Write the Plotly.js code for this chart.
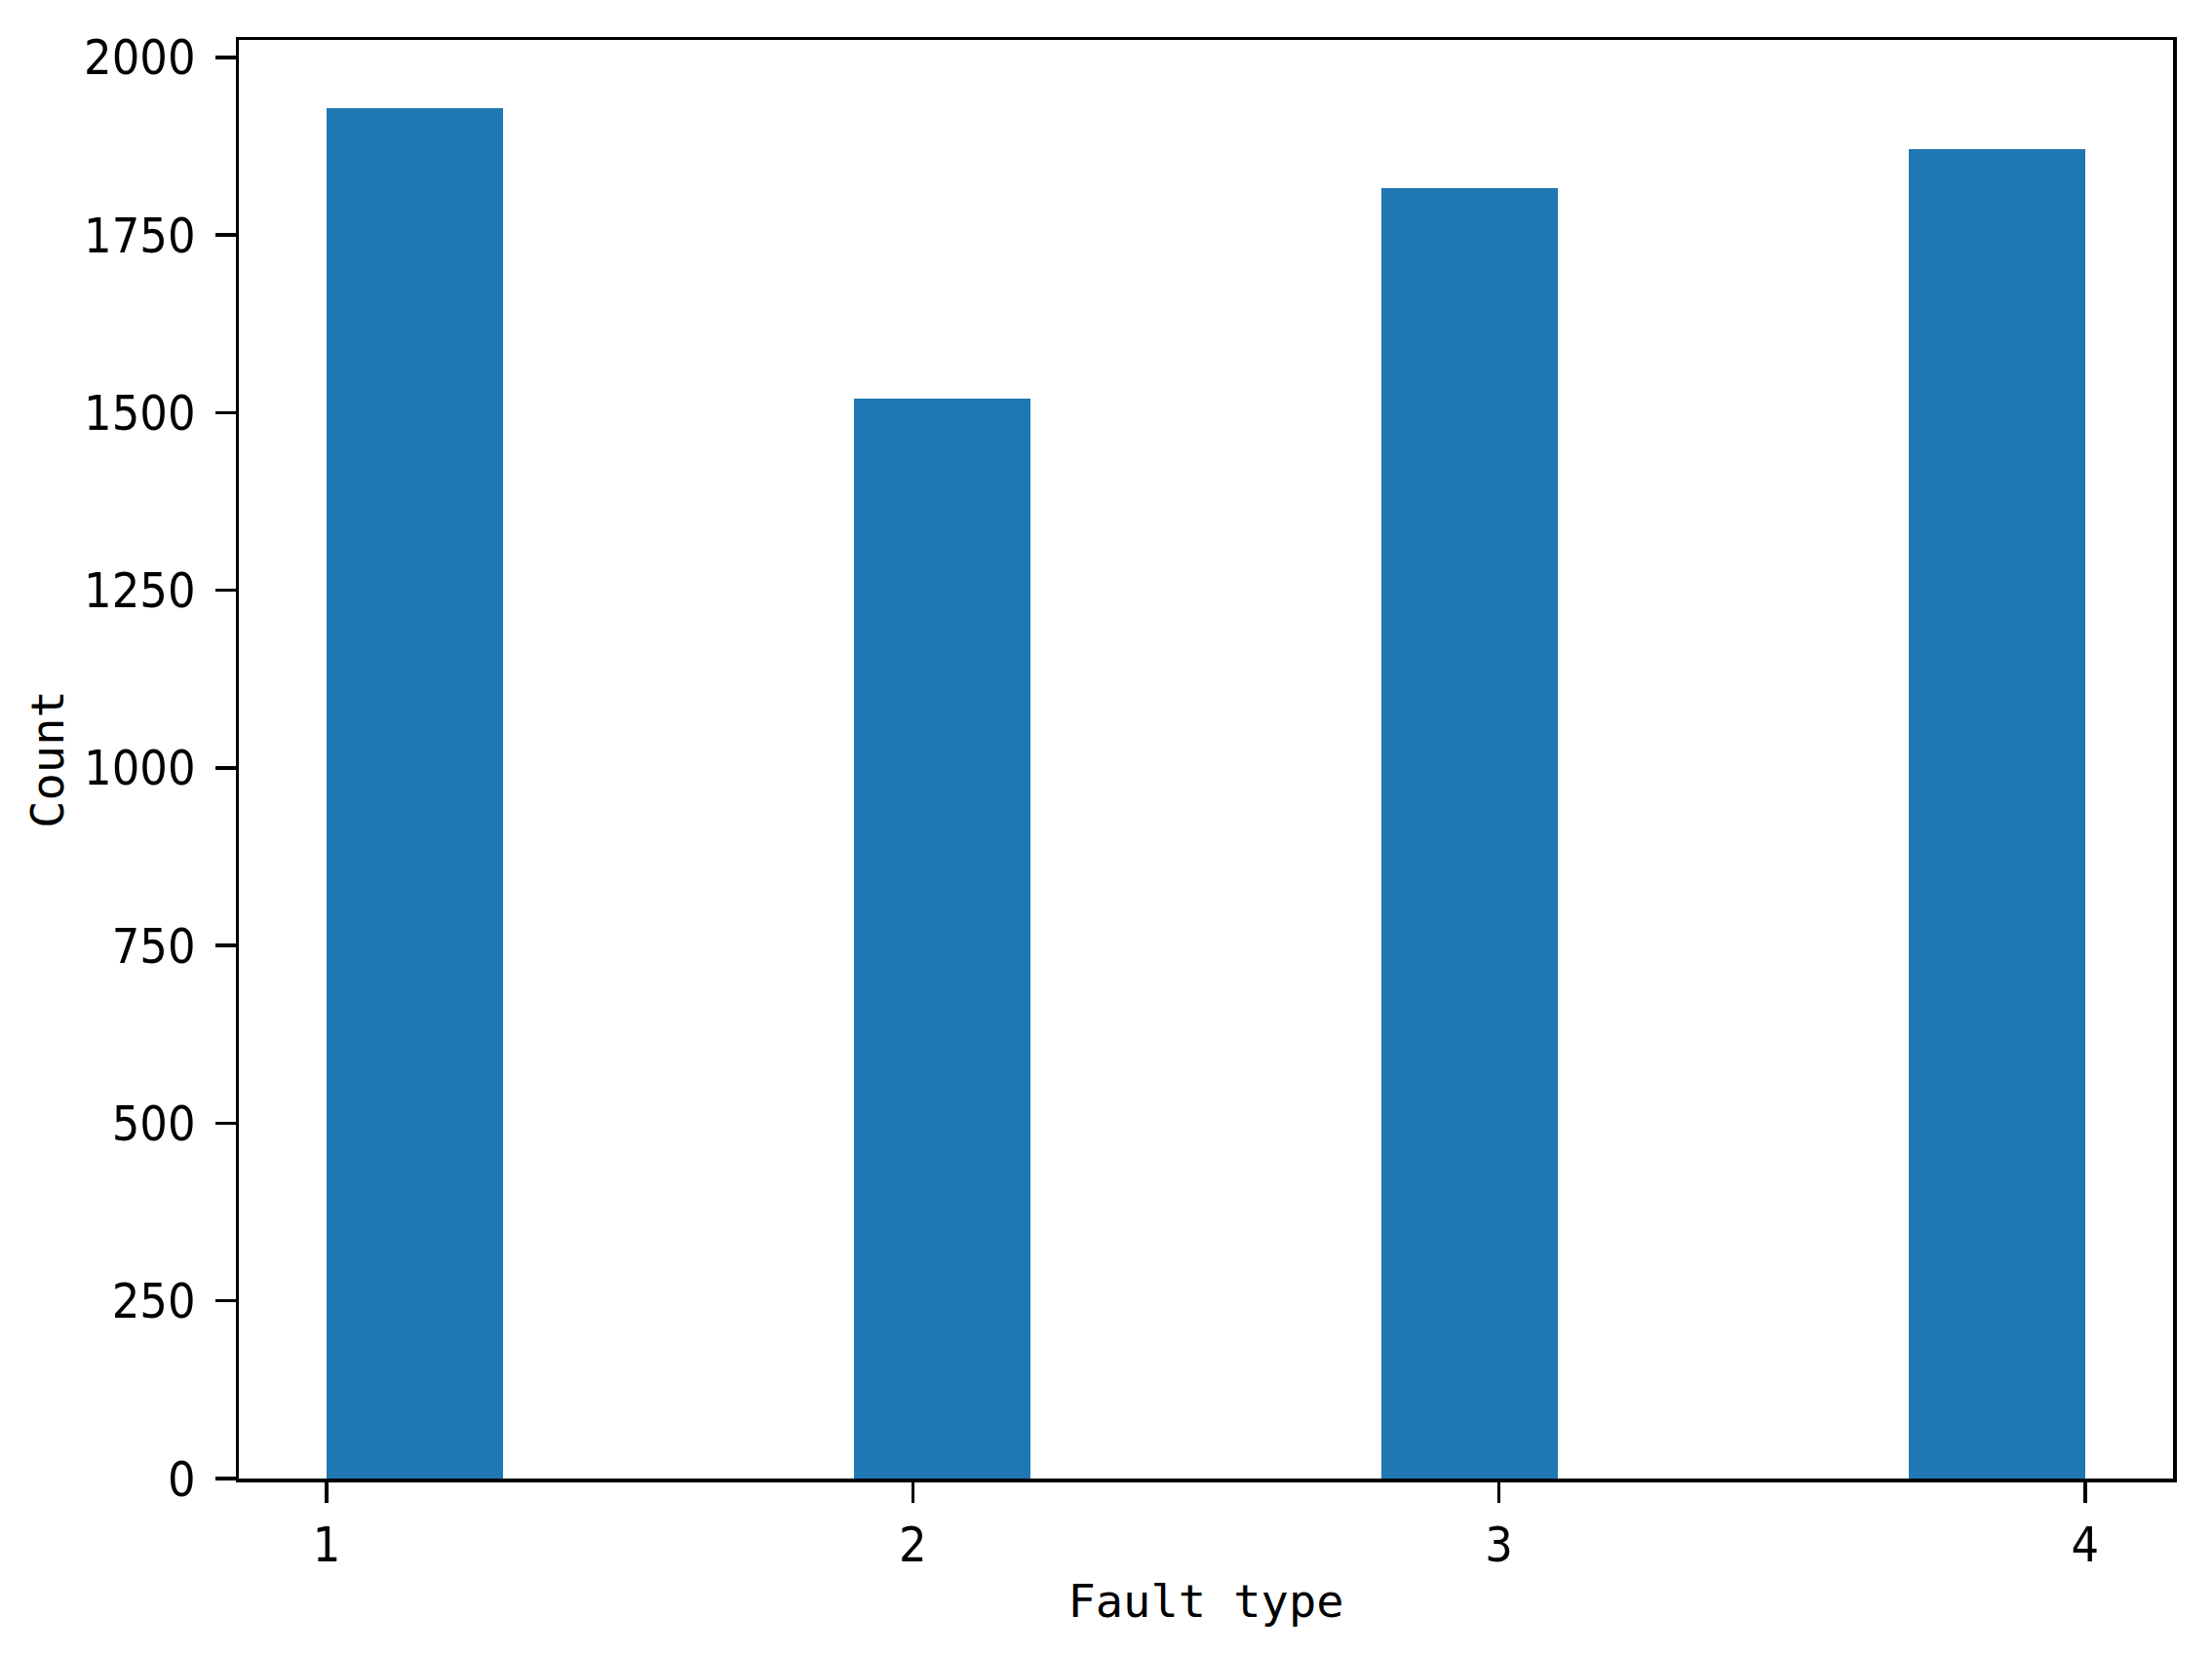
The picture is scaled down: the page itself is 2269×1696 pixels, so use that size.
<!DOCTYPE html>
<html>
<head>
<meta charset="utf-8">
<script src="https://cdn.plot.ly/plotly-3.0.1.min.js"></script>
<style>html,body{margin:0;padding:0;background:#fff;}#chart{width:2269px;height:1696px;}</style>
</head>
<body>
<div id="chart"></div>
<script>
// Data (10 bins over fault types 1..4)
const faultTypes = [1, 2, 3, 4];
const counts = [1928, 1520, 1816, 1871];
const xTickVals = [1, 2, 3, 4];
const xTickText = ['1', '2', '3', '4'];
const yTickVals = [0, 250, 500, 750, 1000, 1250, 1500, 1750, 2000];
const yTickText = ['0', '250', '500', '750', '1000', '1250', '1500', '1750', '2000'];
const numBins = 10;

// histogram binning (as matplotlib hist with bins=10)
const minV = Math.min(...faultTypes), maxV = Math.max(...faultTypes);
const binWidth = (maxV - minV) / numBins;
const binCenters = faultTypes.map(v => {
  let idx = Math.floor((v - minV) / binWidth + 1e-9);
  if (idx >= numBins) idx = numBins - 1;
  return minV + (idx + 0.5) * binWidth;
});

const span = maxV - minV;
const xRange = [minV - 0.05 * span, maxV + 0.05 * span];
const yRange = [0, Math.max(...counts) * 1.05];

const tickFont = {family: '"Liberation Sans Narrow", "DejaVu Sans Condensed", "DejaVu Sans Mono", sans-serif', size: 50, color: '#000'};
const titleFont = {family: '"DejaVu Sans Mono", monospace', size: 47, color: '#000'};

const trace = {
  type: 'bar',
  x: binCenters,
  y: counts,
  width: binWidth,
  marker: {color: '#1f77b4', line: {width: 0}},
  hoverinfo: 'skip'
};

const layout = {
  width: 2269,
  height: 1696,
  margin: {l: 245, r: 40, t: 41, b: 179, pad: 0},
  paper_bgcolor: '#ffffff',
  plot_bgcolor: '#ffffff',
  showlegend: false,
  bargap: 0,
  xaxis: {
    range: xRange,
    tickmode: 'array',
    tickvals: xTickVals,
    ticktext: xTickText,
    showgrid: false,
    zeroline: false,
    showline: true,
    mirror: true,
    linecolor: '#000',
    linewidth: 3.5,
    ticks: 'outside',
    ticklen: 21,
    tickwidth: 3.5,
    tickcolor: '#000',
    ticklabelstandoff: 0,
    tickfont: tickFont,
    title: {text: 'Fault type', font: titleFont, standoff: 14}
  },
  yaxis: {
    range: yRange,
    tickmode: 'array',
    tickvals: yTickVals,
    ticktext: yTickText,
    showgrid: false,
    zeroline: false,
    showline: true,
    mirror: true,
    linecolor: '#000',
    linewidth: 3.5,
    ticks: 'outside',
    ticklen: 21,
    tickwidth: 3.5,
    tickcolor: '#000',
    ticklabelstandoff: 10,
    tickfont: tickFont,
    title: {text: 'Count', font: titleFont, standoff: 6}
  }
};

Plotly.newPlot('chart', [trace], layout, {displayModeBar: false, staticPlot: true});
</script>
</body>
</html>
